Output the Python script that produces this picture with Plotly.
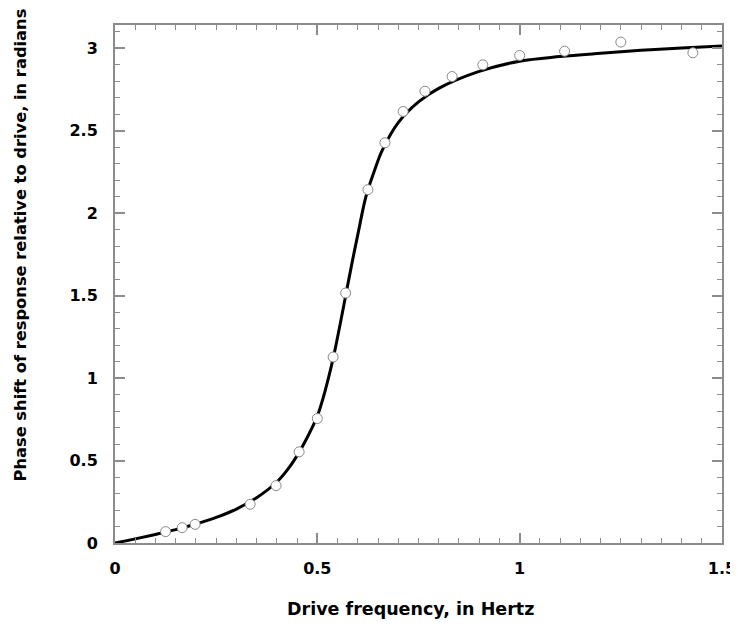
import plotly.graph_objects as go

# measured phase shift (open circles)
freq_pts = [0.125, 0.166, 0.198, 0.334, 0.398, 0.455, 0.500, 0.539, 0.570,
            0.625, 0.667, 0.712, 0.766, 0.833, 0.909, 1.000, 1.111, 1.250, 1.428]
phase_pts = [0.069, 0.093, 0.113, 0.235, 0.348, 0.553, 0.755, 1.128, 1.516,
             2.143, 2.427, 2.617, 2.740, 2.829, 2.900, 2.957, 2.983, 3.038, 2.973]

# fitted curve
freq_fit = [0.0, 0.05, 0.10, 0.15, 0.20, 0.25, 0.30, 0.35, 0.40, 0.425, 0.45,
            0.475, 0.50, 0.52, 0.54, 0.555, 0.57, 0.585, 0.60, 0.62, 0.64,
            0.66, 0.70, 0.75, 0.80, 0.90, 1.00, 1.10, 1.20, 1.30, 1.40, 1.50]
phase_fit = [0.0, 0.025, 0.052, 0.081, 0.115, 0.155, 0.206, 0.275, 0.370,
             0.440, 0.530, 0.640, 0.770, 0.930, 1.130, 1.310, 1.500, 1.690,
             1.870, 2.100, 2.250, 2.380, 2.550, 2.675, 2.757, 2.860, 2.922,
             2.950, 2.970, 2.988, 3.002, 3.014]

font = dict(family="DejaVu Sans, sans-serif", size=16, color="black",
            weight="bold")
frame = "#8c8c8c"

fig = go.Figure()
fig.add_trace(go.Scatter(x=freq_fit, y=phase_fit, mode="lines",
                         line=dict(color="black", width=3, shape="spline"),
                         hoverinfo="skip"))
fig.add_trace(go.Scatter(x=freq_pts, y=phase_pts, mode="markers",
                         marker=dict(symbol="circle", size=10, color="white",
                                     line=dict(color="#888888", width=1)),
                         cliponaxis=False))

axis_common = dict(showgrid=False, zeroline=False, showline=True,
                   linecolor=frame, linewidth=2, mirror="ticks",
                   ticks="inside", ticklen=10, tickwidth=2, tickcolor=frame,
                   tickfont=font, automargin=False)

fig.update_xaxes(range=[0, 1.5], tickvals=[0, 0.5, 1, 1.5],
                 ticktext=["0", "0.5", "1", "1.5"], ticklabelstandoff=10,
                 minor=dict(dtick=0.05, ticks="inside", ticklen=5,
                            tickwidth=1, tickcolor=frame),
                 **axis_common)
fig.update_yaxes(range=[0, 3.1416], tickvals=[0, 0.5, 1, 1.5, 2, 2.5, 3],
                 ticktext=["0", "0.5", "1", "1.5", "2", "2.5", "3"],
                 ticklabelstandoff=12,
                 minor=dict(dtick=0.1, ticks="inside", ticklen=5,
                            tickwidth=1, tickcolor=frame),
                 **axis_common)

fig.add_annotation(text="Drive frequency, in Hertz", showarrow=False,
                   xref="paper", yref="paper", x=0.486, y=-0.127,
                   xanchor="center", yanchor="middle",
                   font=dict(font, size=17.5))
fig.add_annotation(text="Phase shift of response relative to drive, in radians",
                   showarrow=False, textangle=-90, xref="paper", yref="paper",
                   x=-0.155, y=0.576, xanchor="center", yanchor="middle",
                   font=dict(font, size=16.3))

# the page body adds an 8px offset, so the figure is a bit smaller than the window
fig.update_layout(width=730, height=626, showlegend=False,
                  margin=dict(l=107, r=16, t=17, b=91),
                  plot_bgcolor="white", paper_bgcolor="white", font=font)

fig.write_html("out.html")
